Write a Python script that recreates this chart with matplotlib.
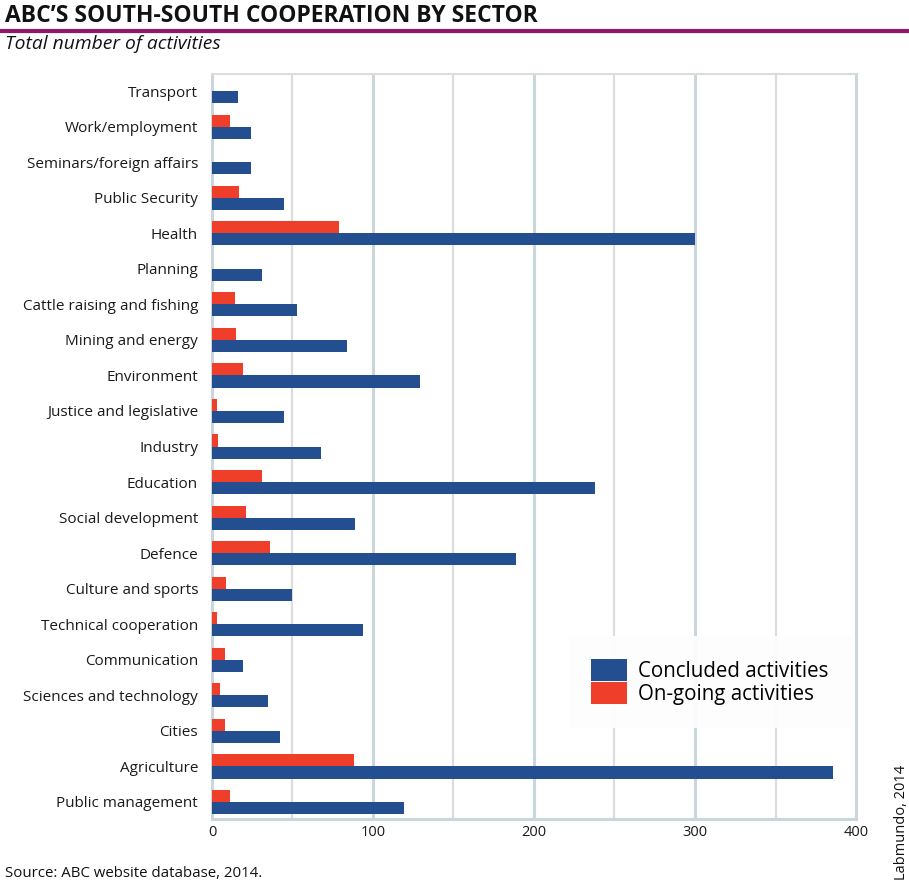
import matplotlib
matplotlib.use("Agg")
import matplotlib.pyplot as plt
import numpy as np
from matplotlib.patches import Patch

plt.rcParams['font.family'] = ['Open Sans', 'DejaVu Sans']

sectors = ["Transport", "Work/employment", "Seminars/foreign affairs", "Public Security",
           "Health", "Planning", "Cattle raising and fishing", "Mining and energy",
           "Environment", "Justice and legislative", "Industry", "Education",
           "Social development", "Defence", "Culture and sports", "Technical cooperation",
           "Communication", "Sciences and technology", "Cities", "Agriculture",
           "Public management"]
concluded = [16, 24, 24, 45, 300, 31, 53, 84, 129, 45, 68, 238, 89, 189, 50, 94, 19, 35, 42, 386, 119]
ongoing = [0, 11, 0, 17, 79, 0, 14, 15, 19, 3, 4, 31, 21, 36, 9, 3, 8, 5, 8, 88, 11]

blue = '#234e8f'
red = '#ef3e2a'
grid_major = '#c9d6dc'
grid_minor = '#dcdcdc'

fig = plt.figure(figsize=(9.09, 8.84), dpi=100)
ax = fig.add_axes([0.2332, 0.0735, 0.7085, 0.8428])

y = np.arange(len(sectors))
h = 0.34
ax.barh(y - h / 2, ongoing, height=h, color=red, zorder=3)
ax.barh(y + h / 2, concluded, height=h, color=blue, zorder=3)

ax.set_xlim(0, 400)
ax.set_ylim(len(sectors) - 0.52, -0.48)
ax.set_yticks(y)
ax.set_yticklabels(sectors, fontsize=11, color='#1a1a1a')
ax.set_xticks([0, 100, 200, 300, 400])
ax.set_xticklabels(['0', '100', '200', '300', '400'], fontsize=10.5, color='#1a1a1a')
ax.tick_params(axis='both', length=0)
ax.tick_params(axis='y', pad=10)
ax.tick_params(axis='x', pad=4)

for v in [100, 200, 300]:
    ax.axvline(v, color=grid_major, lw=2.2, zorder=1)
for v in [50, 150, 250, 350]:
    ax.axvline(v, color=grid_minor, lw=1.6, zorder=1)
for s in ['left', 'right', 'bottom']:
    ax.spines[s].set_color(grid_major)
    ax.spines[s].set_linewidth(2.2)
ax.spines['top'].set_color(grid_minor)
ax.spines['top'].set_linewidth(1.5)

handles = [Patch(facecolor=blue, edgecolor='none', label='Concluded activities'),
           Patch(facecolor=red, edgecolor='none', label='On-going activities')]
leg = ax.legend(handles=handles, loc='upper left',
                bbox_to_anchor=(558.5 / 909, 1 - 626 / 884), bbox_transform=fig.transFigure,
                fontsize=14.8, frameon=True, facecolor='#fdfdfd', edgecolor='none',
                framealpha=0.95, handlelength=1.75, handleheight=1.3, handletextpad=0.5,
                labelspacing=0.0, borderpad=1.1, fancybox=False)
leg.set_zorder(5)

fig.text(0.005, 0.982, "ABC’S SOUTH-SOUTH COOPERATION BY SECTOR", fontsize=16.5,
         fontweight='bold', color='#111111', va='center', ha='left')
fig.add_artist(plt.Line2D([0, 1], [0.9645, 0.9645], color='#8b1a6b', lw=3,
                          transform=fig.transFigure))
fig.text(0.005, 0.950, "Total number of activities", fontsize=13.9, style='italic',
         color='#111111', va='center', ha='left')
fig.text(0.005, 0.003, "Source: ABC website database, 2014.", fontsize=10.8,
         color='#111111', va='bottom', ha='left')
fig.text(0.9995, 0.004, "Labmundo, 2014", fontsize=10.5, rotation=90,
         color='#111111', va='bottom', ha='right')

fig.savefig('out.png', dpi=100)
